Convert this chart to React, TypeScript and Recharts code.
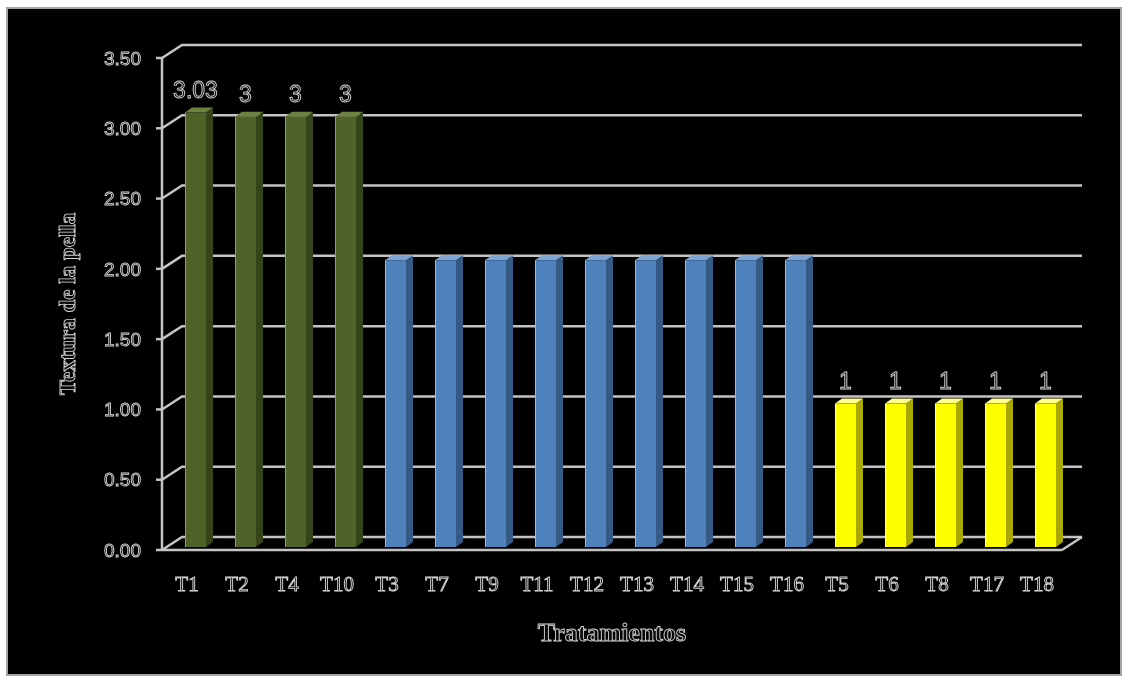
import React from "react";
import { BarChart, Bar, XAxis, YAxis, CartesianGrid, LabelList } from "recharts";

const categories = ["T1", "T2", "T4", "T10", "T3", "T7", "T9", "T11", "T12", "T13", "T14", "T15", "T16", "T5", "T6", "T8", "T17", "T18"];
const values = [3.03, 3, 3, 3, 2, 2, 2, 2, 2, 2, 2, 2, 2, 1, 1, 1, 1, 1];
// grupo de cada tratamiento (define el color)
const groups = ["A", "A", "A", "A", "B", "B", "B", "B", "B", "B", "B", "B", "B", "C", "C", "C", "C", "C"];
const yTicks = [0, 0.5, 1, 1.5, 2, 2.5, 3, 3.5];

const palette: Record<string, { front: string; side: string; top: string; edge: string; label: boolean }> = {
  A: { front: "#4f6228", side: "#364419", top: "#6d8240", edge: "#8fa264", label: true },
  B: { front: "#4f81bd", side: "#365a86", top: "#7ea4d4", edge: "#9dbbe0", label: false },
  C: { front: "#ffff00", side: "#a8a800", top: "#ffff8c", edge: "#ffffb0", label: true },
};

const data = categories.map((name, i) => ({ name, value: values[i], group: groups[i] }));

const W = 1125;
const H = 680;
const MARGIN = { top: 58, right: 63, bottom: 90, left: 82 };
const X_AXIS_H = 40;
const Y_AXIS_W = 80;
const PLOT_BOTTOM = H - MARGIN.bottom - X_AXIS_H;

const GRID = "#c4c4c4";
const BACK_X = 20;
const BACK_Y = 13;
const SHIFT_X = 8;
const DEPTH_X = 7;
const DEPTH_Y = 5;

const outline = { fill: "#0a0a0a", stroke: "#d6d6d6", strokeWidth: 0.9 };

function Bar3D(props: any) {
  const { x, y, width, height, payload } = props;
  const c = palette[payload.group];
  const bottom = y + height - 3;
  const top = bottom - height * 1.02;
  const x0 = x + SHIFT_X;
  const x1 = x0 + width;
  return (
    <g>
      <polygon
        points={`${x1},${top} ${x1 + DEPTH_X},${top - DEPTH_Y} ${x1 + DEPTH_X},${bottom - DEPTH_Y} ${x1},${bottom}`}
        fill={c.side}
      />
      <polygon
        points={`${x0},${top} ${x0 + DEPTH_X},${top - DEPTH_Y} ${x1 + DEPTH_X},${top - DEPTH_Y} ${x1},${top}`}
        fill={c.top}
      />
      <rect x={x0} y={top} width={width} height={bottom - top} fill={c.front} />
      <line x1={x0 + 0.5} y1={top} x2={x0 + 0.5} y2={bottom} stroke={c.edge} strokeWidth={1} />
    </g>
  );
}

function BarLabel(props: any) {
  const { x, y, width, height, index, value } = props;
  const c = palette[groups[index]];
  if (!c.label) return null;
  const bottom = y + height - 3;
  const top = bottom - height * 1.02;
  return (
    <text
      x={x + SHIFT_X + width / 2}
      y={top - 15}
      textAnchor="middle"
      fontFamily="Liberation Sans"
      fontSize={23}
      {...outline}
    >
      {value}
    </text>
  );
}

function GridLine(props: any) {
  const { x1, y1, x2 } = props;
  const by = y1 - BACK_Y;
  const isFloor = Math.abs(y1 - PLOT_BOTTOM) < 1;
  return (
    <g>
      <polyline
        points={`${x1},${y1} ${x1 + BACK_X},${by} ${x2 + BACK_X},${by}`}
        fill="none"
        stroke={GRID}
        strokeWidth={2.5}
      />
      {isFloor && (
        <line x1={x2} y1={y1} x2={x2 + BACK_X} y2={by} stroke={GRID} strokeWidth={2.5} />
      )}
    </g>
  );
}

function XTick(props: any) {
  const { x, y, payload } = props;
  return (
    <text x={x} y={y + 33} textAnchor="middle" fontFamily="Liberation Serif" fontSize={21} {...outline}>
      {payload.value}
    </text>
  );
}

export default function App() {
  return (
    <div style={{ position: "absolute", left: 0, top: 0, width: W, height: H, background: "#fff" }}>
      <div
        style={{
          position: "absolute",
          left: 6,
          top: 7,
          width: 1116,
          height: 669,
          border: "2px solid #a3a3a3",
          background: "#000",
          boxSizing: "border-box",
        }}
      />
      <div style={{ position: "absolute", left: 0, top: 0, willChange: "transform" }}>
        <BarChart width={W} height={H} data={data} margin={MARGIN} barSize={21}>
          <CartesianGrid vertical={false} horizontal={(p: any) => <GridLine {...p} />} />
          <XAxis
            dataKey="name"
            height={X_AXIS_H}
            axisLine={{ stroke: GRID, strokeWidth: 2.5 }}
            tickLine={false}
            tick={<XTick />}
            interval={0}
            label={{
              content: () => (
                <text
                  x={612}
                  y={632}
                  textAnchor="middle"
                  dominantBaseline="central"
                  fontFamily="Liberation Serif"
                  fontWeight="bold"
                  fontSize={26}
                  {...outline}
                >
                  Tratamientos
                </text>
              ),
            }}
          />
          <YAxis
            width={Y_AXIS_W}
            domain={[0, 3.5]}
            ticks={yTicks}
            interval={0}
            tickFormatter={(v: number) => v.toFixed(2)}
            axisLine={{ stroke: GRID, strokeWidth: 2.5 }}
            tickLine={{ stroke: GRID, strokeWidth: 2.5 }}
            tickSize={6}
            tickMargin={15}
            tick={{ fontFamily: "Liberation Sans", fontSize: 19, ...outline }}
            label={{
              content: () => (
                <text
                  x={67}
                  y={304}
                  transform="rotate(-90 67 304)"
                  textAnchor="middle"
                  dominantBaseline="central"
                  fontFamily="Liberation Serif"
                  fontWeight="bold"
                  fontSize={23}
                  {...outline}
                >
                  Textura de la pella
                </text>
              ),
            }}
          />
          <Bar dataKey="value" shape={<Bar3D />} isAnimationActive={false}>
            <LabelList dataKey="value" content={<BarLabel />} />
          </Bar>
        </BarChart>
      </div>
    </div>
  );
}
